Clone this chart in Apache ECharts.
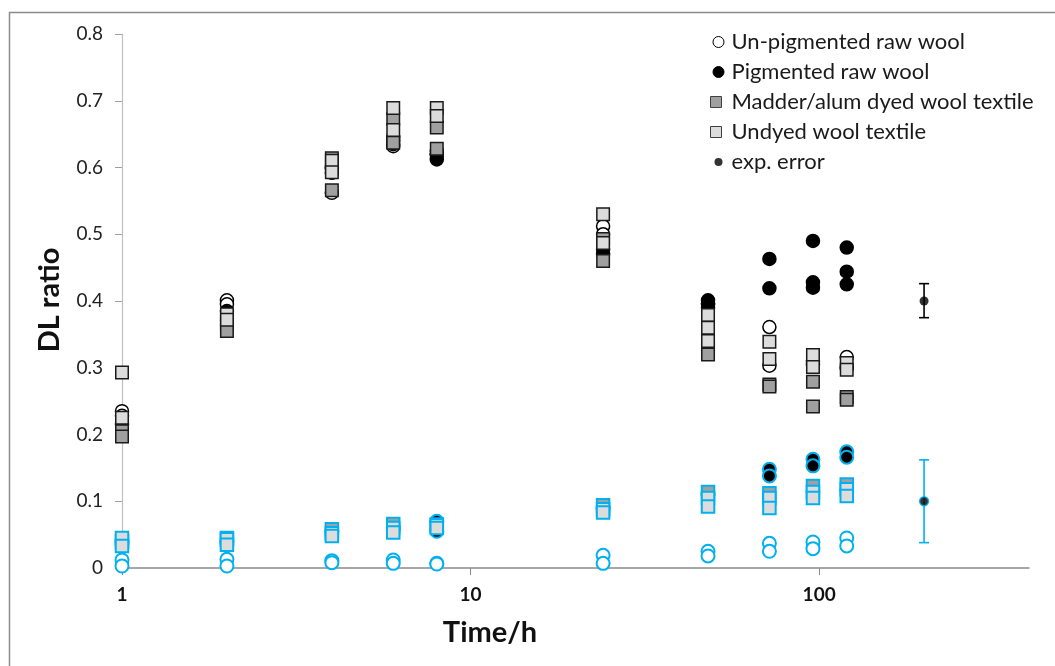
<!DOCTYPE html>
<html>
<head>
<meta charset="utf-8">
<script src="https://cdn.jsdelivr.net/npm/echarts@6/dist/echarts.min.js"></script>
<style>
    html, body { margin: 0; padding: 0; background: #fff; }
    #chart { width: 1055px; height: 666px; }
</style>
</head>
<body>
<div id="chart"></div>
<script>
// sampling times (h)
var times = [1, 2, 4, 6, 8, 24, 48, 72, 96, 120];

// upper group (black outline), replicates per time
var unpigHigh = [[0.235, 0.228], [0.401, 0.395], [0.562, 0.598], [0.632, 0.645], [0.62, 0.625], [0.512, 0.50], [0.395, 0.39], [0.361, 0.303], [0.31, 0.305], [0.316, 0.30]];
var pigHigh = [[0.215], [0.385], [0.592, 0.60], [0.64, 0.635], [0.612, 0.62], [0.477, 0.47], [0.401, 0.396], [0.463, 0.419], [0.49, 0.428, 0.42], [0.48, 0.444, 0.425]];
var madderHigh = [[0.205, 0.197], [0.365, 0.355], [0.614, 0.566], [0.673, 0.637], [0.66, 0.628], [0.493, 0.46], [0.33, 0.32], [0.275, 0.272], [0.279, 0.242], [0.256, 0.252]];
var undyedHigh = [[0.293, 0.225], [0.38, 0.372], [0.61, 0.593], [0.689, 0.656], [0.689, 0.677], [0.53, 0.487], [0.379, 0.36, 0.34], [0.339, 0.313], [0.319, 0.301], [0.307, 0.297]];

// lower group (blue outline)
var unpigLow = [[0.012, 0.003], [0.013, 0.003], [0.011, 0.008], [0.012, 0.007], [0.007, 0.006], [0.019, 0.007], [0.025, 0.018], [0.037, 0.025], [0.039, 0.029], [0.045, 0.033]];
var pigLow = [[0.04], [0.04], [0.055], [0.06], [0.07, 0.055], [0.09], [0.11], [0.148, 0.138], [0.163, 0.153], [0.174, 0.166]];
var madderLow = [[0.04], [0.045], [0.058], [0.066], [0.065], [0.094], [0.114], [0.112], [0.123], [0.125]];
var undyedLow = [[0.045, 0.033], [0.043, 0.035], [0.052, 0.048], [0.06, 0.053], [0.064, 0.06], [0.088, 0.083], [0.105, 0.092], [0.105, 0.09], [0.114, 0.105], [0.118, 0.108]];

// experimental error points
var errTime = [200, 200];
var errValue = [0.4, 0.1];
var errLow = [0.375, 0.038];
var errHigh = [0.426, 0.162];

var yTicks = [0, 0.8, 0.1];
var xTicks = [1, 10, 100];

var BLUE = '#00b0f0';
var FONT = 'Lato';

function points(arr) {
    var out = [];
    arr.forEach(function (vals, i) {
        vals.forEach(function (v) { out.push([times[i], v]); });
    });
    return out;
}

function scatter(name, data, symbol, fill, border, bw, size) {
    return {
        name: name,
        type: 'scatter',
        data: points(data),
        symbol: symbol,
        symbolSize: size,
        itemStyle: { color: fill, borderColor: border, borderWidth: bw, opacity: 1 },
        emphasis: { disabled: true }
    };
}

var chart = echarts.init(document.getElementById('chart'));

var option = {
    animation: false,
    textStyle: { fontFamily: FONT },
    grid: { left: 122, right: 26, top: 34, bottom: 98 },
    graphic: [
        { type: 'rect', shape: { x: 9.5, y: 12.5, width: 1200, height: 800 }, style: { fill: 'none', stroke: '#8c8c8c', lineWidth: 1.5 }, silent: true },
        { type: 'text', x: 490, y: 633, style: { text: 'Time/h', font: 'bold 29px Lato', fill: '#111', textAlign: 'center', textVerticalAlign: 'middle' } },
        { type: 'text', x: 50, y: 300, rotation: Math.PI / 2, style: { text: 'DL ratio', font: 'bold 29px Lato', fill: '#111', textAlign: 'center', textVerticalAlign: 'middle' } }
    ],
    legend: {
        orient: 'vertical',
        left: 705,
        top: 26,
        itemWidth: 16,
        itemHeight: 11,
        itemGap: 8,
        textStyle: { fontFamily: FONT, fontSize: 22, color: '#1a1a1a' },
        data: [
            { name: 'Un-pigmented raw wool', icon: 'circle', itemStyle: { color: '#fff', borderColor: '#000', borderWidth: 1 } },
            { name: 'Pigmented raw wool', icon: 'circle', itemStyle: { color: '#000', borderColor: '#000', borderWidth: 1 } },
            { name: 'Madder/alum dyed wool textile', icon: 'square', itemStyle: { color: '#a0a0a0', borderColor: '#404040', borderWidth: 1 } },
            { name: 'Undyed wool textile', icon: 'square', itemStyle: { color: '#dcdcdc', borderColor: '#404040', borderWidth: 1 } },
            { name: 'exp. error', icon: 'path://M0,0M16,11M4,5.5a4,4 0 1,0 8,0a4,4 0 1,0 -8,0z', itemStyle: { color: '#000', borderWidth: 0 } }
        ]
    },
    xAxis: {
        type: 'log',
        logBase: 10,
        min: 1,
        max: 400,
        splitLine: { show: false },
        axisLine: { onZero: false, lineStyle: { color: '#8a8a8a', width: 1.5 } },
        axisTick: { show: true, length: 7, customValues: xTicks, lineStyle: { color: '#8a8a8a' } },
        axisLabel: {
            customValues: xTicks,
            margin: 17,
            fontSize: 19,
            fontWeight: 'bold',
            color: '#111',
            fontFamily: FONT
        }
    },
    yAxis: {
        type: 'value',
        min: yTicks[0],
        max: yTicks[1],
        interval: yTicks[2],
        splitLine: { show: false },
        axisLine: { show: true, lineStyle: { color: '#c0c0c0', width: 1.2 } },
        axisTick: { show: true, length: 7, lineStyle: { color: '#a0a0a0' } },
        axisLabel: { margin: 19, fontSize: 19, color: '#222', fontFamily: FONT }
    },
    series: [
        scatter('Un-pigmented raw wool', unpigHigh, 'circle', '#fff', '#000', 1.5, 13),
        scatter('Pigmented raw wool', pigHigh, 'circle', '#000', '#000', 1.5, 13),
        scatter('Madder/alum dyed wool textile', madderHigh, 'rect', '#a0a0a0', '#1a1a1a', 1.5, 12.5),
        scatter('Undyed wool textile', undyedHigh, 'rect', '#dcdcdc', '#1a1a1a', 1.5, 12.5),
        scatter('unpig-low', unpigLow, 'circle', '#fff', BLUE, 2, 13),
        scatter('pig-low', pigLow, 'circle', '#000', BLUE, 2, 13),
        scatter('madder-low', madderLow, 'rect', '#a0a0a0', BLUE, 2, 12.5),
        scatter('undyed-low', undyedLow, 'rect', '#dcdcdc', BLUE, 2, 12.5),
        {
            name: 'exp. error bars',
            type: 'custom',
            data: errTime.map(function (t, i) { return [t, errLow[i], errHigh[i], i]; }),
            renderItem: function (params, api) {
                var lo = api.coord([api.value(0), api.value(1)]);
                var hi = api.coord([api.value(0), api.value(2)]);
                var c = api.value(3) === 0 ? '#000' : BLUE;
                var style = { stroke: c, lineWidth: 1.6 };
                return {
                    type: 'group',
                    children: [
                        { type: 'line', shape: { x1: lo[0], y1: lo[1], x2: hi[0], y2: hi[1] }, style: style },
                        { type: 'line', shape: { x1: lo[0] - 5, y1: lo[1], x2: lo[0] + 5, y2: lo[1] }, style: style },
                        { type: 'line', shape: { x1: hi[0] - 5, y1: hi[1], x2: hi[0] + 5, y2: hi[1] }, style: style }
                    ]
                };
            },
            encode: { x: 0, y: [1, 2] },
            silent: true
        },
        {
            name: 'exp. error',
            type: 'scatter',
            symbol: 'circle',
            symbolSize: 9,
            data: errTime.map(function (t, i) {
                return { value: [t, errValue[i]], itemStyle: { color: '#000', borderColor: i === 0 ? '#000' : BLUE, borderWidth: i === 0 ? 0 : 1.5 } };
            }),
            itemStyle: { color: '#000' },
            emphasis: { disabled: true }
        }
    ]
};

chart.setOption(option);
</script>
</body>
</html>
